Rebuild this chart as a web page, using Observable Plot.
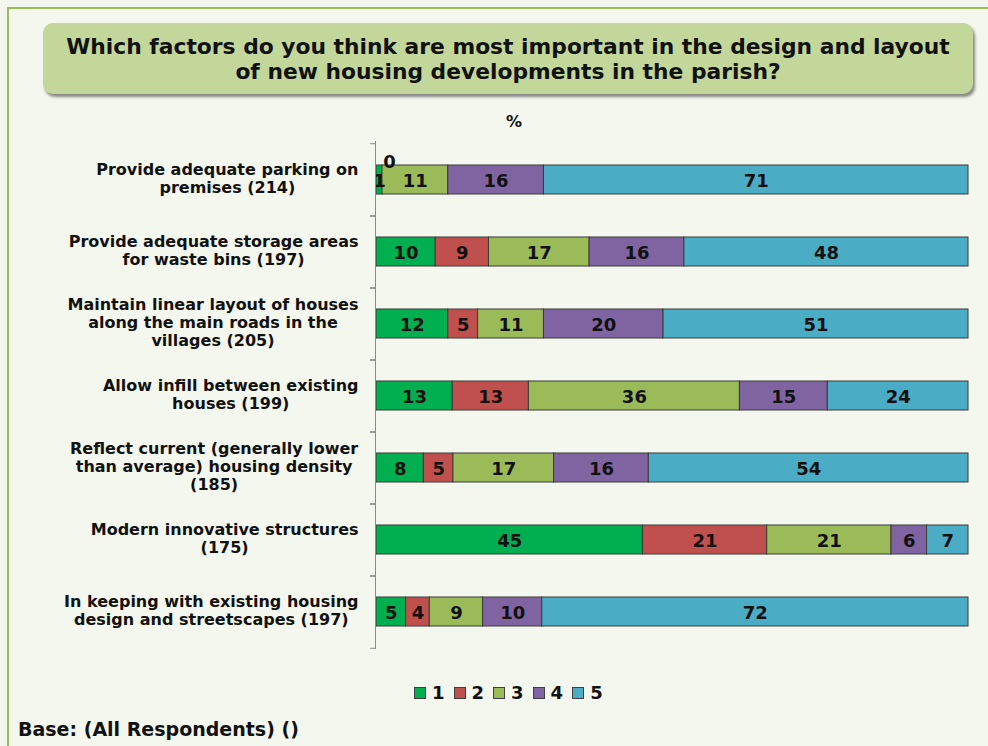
<!DOCTYPE html>
<html>
<head>
<meta charset="utf-8">
<script src="https://cdn.jsdelivr.net/npm/d3@7"></script>
<script src="https://cdn.jsdelivr.net/npm/@observablehq/plot@0.6"></script>
<style>
  html, body { margin: 0; padding: 0; }
  body { width: 988px; height: 746px; background: #f4f7ee; position: relative; overflow: hidden; font-family: "DejaVu Sans", Verdana, sans-serif; }
  #frame { position: absolute; left: 7px; top: 7px; width: 1100px; height: 900px; border-top: 2px solid #9bbb59; border-left: 2px solid #9bbb59; }
  #title { position: absolute; left: 43px; top: 23px; width: 930px; height: 71px; background: #c4d79b; border-radius: 10px;
           box-shadow: 2px 3px 3px rgba(0,0,0,0.45); display: flex; align-items: center; justify-content: center; text-align: center;
           font-family: "DejaVu Sans", sans-serif; font-weight: bold; font-size: 21.8px; line-height: 25px; color: #111; }
  #pct { position: absolute; left: 506px; top: 112px; font-weight: bold; font-size: 16px; color: #111; }
  #chart { position: absolute; left: 0; top: 100px; }
  #legend { position: absolute; top: 681px; left: 414px; display: flex; gap: 9px; font-weight: bold; font-size: 18px; line-height: 24px; color: #111; }
  #legend .item { display: flex; align-items: center; gap: 6px; }
  #legend .sw { width: 10px; height: 10px; border: 1px solid #404040; }
  #base { position: absolute; left: 18px; top: 718px; font-weight: bold; font-size: 19px; color: #111; }
</style>
</head>
<body>
<div id="frame"></div>
<div id="title">Which factors do you think are most important in the design and layout<br>of new housing developments in the parish?</div>
<div id="pct">%</div>
<div id="chart"></div>
<div id="legend"></div>
<div id="base">Base: (All Respondents) ()</div>
<script>
const categories = [
  "Provide adequate parking on\npremises (214)",
  "Provide adequate storage areas\nfor waste bins (197)",
  "Maintain linear layout of houses\nalong the main roads in the\nvillages (205)",
  "Allow infill between existing\nhouses (199)",
  "Reflect current (generally lower\nthan average) housing density\n(185)",
  "Modern innovative structures\n(175)",
  "In keeping with existing housing\ndesign and streetscapes (197)"
];
const ratings = ["1", "2", "3", "4", "5"];
const colors = ["#00b050", "#c0504d", "#9bbb59", "#8064a2", "#4bacc6"];
const rating1 = [1, 10, 12, 13, 8, 45, 5];
const rating2 = [0, 9, 5, 13, 5, 21, 4];
const rating3 = [11, 17, 11, 36, 17, 21, 9];
const rating4 = [16, 16, 20, 15, 16, 6, 10];
const rating5 = [71, 48, 51, 24, 54, 7, 72];

const series = [rating1, rating2, rating3, rating4, rating5];
const data = [];
categories.forEach((c, i) => {
  ratings.forEach((r, k) => data.push({category: c, rating: r, value: series[k][i]}));
});

const W = 988, H = 560, mT = 41, mB = 11;
const step = (H - mT - mB) / categories.length;

const stackOpts = {offset: "normalize", x: "value", y: "category", z: "rating"};

const plot = Plot.plot({
  width: W, height: H,
  marginLeft: 376, marginRight: 20, marginTop: mT, marginBottom: mB,
  style: {background: "transparent", fontFamily: "DejaVu Sans, Verdana, sans-serif", fontWeight: "bold", color: "#111"},
  x: {axis: null, domain: [0, 1]},
  y: {domain: categories, paddingInner: 0.6, paddingOuter: 0.3, label: null, axis: null},
  color: {domain: ratings, range: colors},
  marks: [
    Plot.barX(data, Plot.stackX({...stackOpts, fill: "rating", stroke: "#3a3a3a", strokeWidth: 1})),
    Plot.text(data, Plot.stackX({...stackOpts, fill: "#111",
      text: d => d.value > 0 ? String(d.value) : null, fontSize: 18, fontWeight: "bold", dy: 1})),
    Plot.text(data, Plot.stackX({...stackOpts, fill: "#111",
      text: d => d.value === 0 ? String(d.value) : null, fontSize: 18, fontWeight: "bold", dy: -18, dx: 7})),
    Plot.ruleX([0], {stroke: "#8a8a8a", dx: -1}),
    Plot.axisY({text: null, tickSize: 5, dy: -step / 2, dx: -1, stroke: "#8a8a8a"}),
    Plot.axisY({text: null, tickSize: 5, dy: step / 2, dx: -1, stroke: "#8a8a8a"}),
    Plot.axisY({tickSize: 0, tickPadding: 18, fontSize: 16, fontWeight: "bold", lineHeight: 1.15, dy: -2, fill: "#111"})
  ]
});
document.getElementById("chart").appendChild(plot);

// center each multi-line label on its widest line (labels right-aligned as blocks)
plot.querySelectorAll('g[aria-label="y-axis tick label"] text').forEach(t => {
  const w = t.getBBox().width;
  t.setAttribute("text-anchor", "middle");
  const tr = t.getAttribute("transform") || "";
  t.setAttribute("transform", tr + ` translate(${-w / 2},0)`);
});

const legend = document.getElementById("legend");
ratings.forEach((r, k) => {
  const it = document.createElement("div");
  it.className = "item";
  it.innerHTML = `<span class="sw" style="background:${colors[k]}"></span><span>${r}</span>`;
  legend.appendChild(it);
});
</script>
</body>
</html>
